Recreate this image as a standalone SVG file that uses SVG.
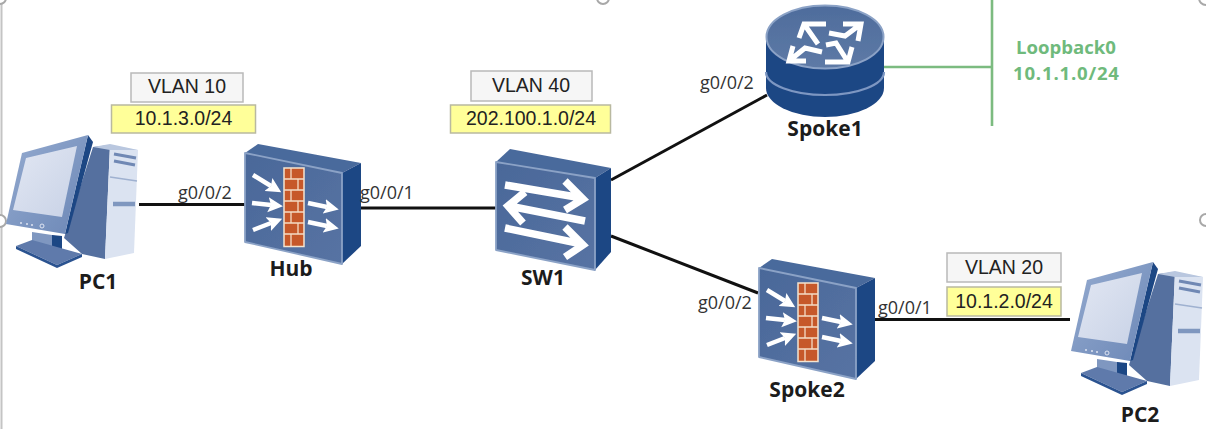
<svg xmlns="http://www.w3.org/2000/svg" width="1206" height="429" viewBox="0 0 1206 429">
<style>
.link{stroke:#111;stroke-width:3;fill:none;stroke-linecap:butt}
.loop{stroke:#7cbb80;stroke-width:2.6;fill:none}
.port{font:18px "Open Sans",sans-serif;fill:#333}
.vlan{font:19.5px "Liberation Sans",sans-serif;fill:#222;text-anchor:middle}
.name{font:bold 21px "Open Sans",sans-serif;fill:#1c1c1c;text-anchor:middle}
.green{font:bold 18.6px "Open Sans",sans-serif;fill:#6fba7c;text-anchor:middle}
.gbox{fill:#f6f6f6;stroke:#b9b9b9;stroke-width:1.5}
.ybox{fill:#ffff99;stroke:#b9b9a0;stroke-width:1.5}
.w{stroke:#fff;fill:none;stroke-width:4.5}
.sw{stroke:#fff;fill:none;stroke-width:7.5}
.rt{stroke:#fff;fill:none;stroke-width:5;stroke-linejoin:miter}
.jt{stroke:#f4dcc6;stroke-width:1.3;fill:none}
.h{fill:#fff;stroke:#a8a8a8;stroke-width:2}
.soft{filter:url(#soft)}
</style>
<defs>
<filter id="soft" x="-5%" y="-5%" width="110%" height="110%"><feGaussianBlur stdDeviation="0.5"/></filter>
<marker id="ah" markerUnits="userSpaceOnUse" markerWidth="16" markerHeight="16" refX="3" refY="8" orient="auto"><path d="M0 0.500L15 8L0 15.500L3 8Z" fill="#fff"/></marker>
<linearGradient id="front" x1="0" y1="0" x2="1" y2="1"><stop offset="0" stop-color="#4a6899"/><stop offset="1" stop-color="#5773a3"/></linearGradient>
<linearGradient id="rtop" x1="0" y1="0" x2="0" y2="1"><stop offset="0" stop-color="#4e6c9c"/><stop offset="1" stop-color="#5e7aa6"/></linearGradient>
<linearGradient id="screen" x1="0" y1="0" x2="1" y2="1"><stop offset="0" stop-color="#e2e7f3"/><stop offset="1" stop-color="#c8d2e6"/></linearGradient>
<linearGradient id="bez" x1="0" y1="0" x2="1" y2="1"><stop offset="0" stop-color="#95abd0"/><stop offset="1" stop-color="#6b87b6"/></linearGradient>
<g id="pc" class="soft">
<path d="M93 147L110 145L105 259L82 254L64 238Z" fill="#54709f"/>
<path d="M110 145L138 150L134 253L105 259Z" fill="#dbe3f1"/>
<path d="M93 147L110 144L138 150L110 150Z" fill="#b9c7df"/>
<path d="M110 177L137 181" stroke="#9fb1d0" stroke-width="1.5" fill="none"/>
<path d="M114 154L136 158M114 161L135 165" stroke="#6f88b4" stroke-width="3.2" fill="none"/>
<path d="M113 204L135 204" stroke="#7f97bf" stroke-width="4.5" fill="none"/>
<path d="M32 232L52 235L62 238L62 252L32 246Z" fill="#7f97c0"/>
<path d="M52 235L62 236L62 252L52 250Z" fill="#1f4684"/>
<path d="M16 246L32 240L82 254L57 265Z" fill="#5e7aab"/>
<path d="M16 246L57 265L82 254L82 257L57 268L16 249Z" fill="#2c5290"/>
<path d="M88 135L93 142L68 233L65 234Z" fill="#1f4684"/>
<path d="M22 153L88 135L65 234L6 224Z" fill="url(#bez)"/>
<path d="M26 158L77 146L62 217L13 210Z" fill="url(#screen)"/>
<circle cx="21" cy="223" r="1" fill="#dfe5f2"/><circle cx="27" cy="224" r="1" fill="#dfe5f2"/><circle cx="32" cy="225" r="1" fill="#dfe5f2"/><circle cx="42" cy="226" r="2" fill="none" stroke="#dfe5f2"/>
</g>
<g id="fw" class="soft">
<path d="M245 153L258 144L361 163L342 173Z" fill="#4a6a9c"/>
<path d="M342 173L361 163L361 246L342 264Z" fill="#1f4684"/>
<path d="M245 153L342 173L342 264L245 242Z" fill="url(#front)" stroke="#8ba2c6" stroke-width="1.8" stroke-linejoin="round"/>
<rect x="284" y="168" width="20" height="78.500" fill="#c6582a" stroke="#f4e4d0" stroke-width="1.500"/>
<path class="jt" d="M284 179H304M284 190H304M284 201H304M284 212H304M284 223H304M284 234H304M291 168V179M298 179V190M291 190V201M298 201V212M291 212V223M298 223V234M291 234V246"/>
<path class="w" d="M253 175L271 186" marker-end="url(#ah)"/>
<path class="w" d="M252 203L271 205" marker-end="url(#ah)"/>
<path class="w" d="M253 230L271 223" marker-end="url(#ah)"/>
<path class="w" d="M308 203L327 207" marker-end="url(#ah)"/>
<path class="w" d="M308 222L327 226" marker-end="url(#ah)"/>
</g>
</defs>
<rect width="1206" height="429" fill="#fff"/>
<path d="M1.500 0V429" stroke="#c4c4c4" stroke-width="2" fill="none"/>
<circle class="h" cx="0" cy="221" r="6"/>
<circle class="h" cx="603" cy="-2" r="6"/>
<circle class="h" cx="1206" cy="220" r="6"/>
<circle class="h" cx="1206" cy="-2" r="7"/>
<circle class="h" cx="0" cy="-2" r="6"/>

<g id="connectors">
<path class="link" d="M139 204.500H245"/>
<path class="link" d="M361 208H496"/>
<path class="link" d="M611 180L767 95"/>
<path class="link" d="M611 236L758 293"/>
<path class="link" d="M873 319.500H1070"/>
<path class="loop" d="M884 67H992"/>
<path class="loop" d="M992 0V126"/>
</g>

<g id="PC1"><use href="#pc"/><text class="name" x="98" y="289">PC1</text></g>
<g id="Hub"><use href="#fw"/><text class="name" x="291" y="276">Hub</text></g>
<g id="SW1">
<g class="soft">
<path d="M496 162L510 149L611 168L595 178Z" fill="#4a6a9c"/>
<path d="M595 178L611 168L611 252L595 270Z" fill="#1f4684"/>
<path d="M496 162L595 178L595 270L496 250Z" fill="url(#front)" stroke="#8ba2c6" stroke-width="1.800" stroke-linejoin="round"/>
<path class="sw" d="M505 185L582 198M565 181L583 199L565 210"/>
<path class="sw" d="M585 221L509 206M525 192L508 206L523 223"/>
<path class="sw" d="M505 228L582 244M565 227L583 245L565 257"/>
</g>
<text class="name" x="543" y="285">SW1</text>
</g>
<g id="Spoke1">
<g class="soft">
<path d="M766 37V88A59 29 0 0 0 884 88V37Z" fill="#1f4684"/>
<path d="M766 72A59 23 0 0 0 884 72" stroke="#7d97c2" stroke-width="2.200" fill="none"/>
<ellipse cx="825" cy="37" rx="58.500" ry="31.500" fill="url(#rtop)" stroke="#8ba2c6" stroke-width="2"/>
<path class="rt" d="M826 24H804L799 38M804 24L818 44"/>
<path class="rt" d="M829 33L845 36L861 24M843 24H861L858 41"/>
<path class="rt" d="M822 52L805 48L789 61M793 46L789 61H806"/>
<path class="rt" d="M825 62H848L852 47M848 62L836 43L826 45"/>
</g>
<text class="name" x="825" y="136">Spoke1</text>
</g>
<g id="Spoke2"><use href="#fw" transform="translate(514 115)"/><text class="name" x="807" y="397">Spoke2</text></g>
<g id="PC2"><use href="#pc" transform="translate(1065 127)"/><text class="name" x="1140" y="422">PC2</text></g>

<g id="Loopback"><text class="green" x="1066" y="54">Loopback0</text><text class="green" x="1066" y="80" textLength="106">10.1.1.0/24</text></g>

<g id="subnets">
<rect class="gbox" x="131" y="73" width="112" height="29"/><text class="vlan" x="187" y="93">VLAN 10</text>
<rect class="ybox" x="111.500" y="105" width="144" height="28"/><text class="vlan" x="183.500" y="125">10.1.3.0/24</text>
<rect class="gbox" x="471" y="71" width="121" height="30"/><text class="vlan" x="531" y="92">VLAN 40</text>
<rect class="ybox" x="450.500" y="105" width="160" height="28"/><text class="vlan" x="531" y="125">202.100.1.0/24</text>
<rect class="gbox" x="947" y="253" width="114" height="29"/><text class="vlan" x="1004" y="274">VLAN 20</text>
<rect class="ybox" x="947" y="287" width="114" height="29"/><text class="vlan" x="1004" y="308">10.1.2.0/24</text>
</g>
<g id="ports">
<text class="port" x="178" y="199">g0/0/2</text>
<text class="port" x="360" y="199">g0/0/1</text>
<text class="port" x="700" y="89">g0/0/2</text>
<text class="port" x="698" y="309">g0/0/2</text>
<text class="port" x="878" y="314">g0/0/1</text>
</g>
</svg>
